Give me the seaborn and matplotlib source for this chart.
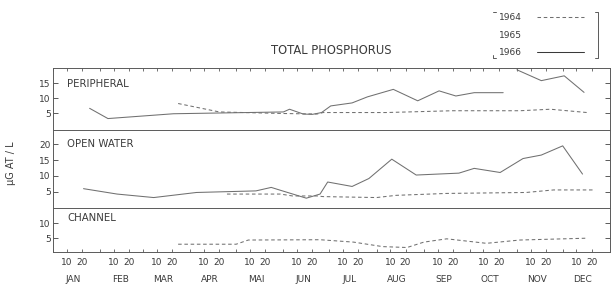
import matplotlib
matplotlib.use("Agg")
import matplotlib.pyplot as plt
import matplotlib.transforms as mtransforms
from matplotlib.lines import Line2D
import seaborn as sns

sns.set_theme(style="white")
plt.rcParams['font.family'] = ['DejaVu Sans']

# ---------------- data (day of year, µg at/L) ----------------
months = ["JAN", "FEB", "MAR", "APR", "MAI", "JUN",
          "JUL", "AUG", "SEP", "OCT", "NOV", "DEC"]
month_start = [0, 31, 59, 90, 120, 151, 181, 212, 243, 273, 304, 334]
tick_days = ["10", "20"]
years = ["1964", "1965", "1966"]

# PERIPHERAL
per_1966a_day = [24, 36, 79, 151, 155, 164, 170, 176, 182, 196, 206, 223, 239, 253, 264, 276, 295]
per_1966a_val = [6.7, 3.3, 4.9, 5.5, 6.4, 4.8, 4.7, 5.3, 7.5, 8.5, 10.5, 13.0, 9.2, 12.5, 10.8, 11.9, 11.9]
per_1966b_day = [304, 320, 335, 348]
per_1966b_val = [19.5, 15.9, 17.5, 12.0]
per_1964_day = [82, 109, 149, 173, 177, 218, 262, 306, 326, 350]
per_1964_val = [8.3, 5.5, 5.0, 4.8, 5.3, 5.3, 5.9, 5.9, 6.4, 5.3]

# OPEN WATER
ow_1966_day = [20, 42, 66, 94, 133, 143, 149, 166, 175, 180, 196, 207, 222, 238,
               266, 276, 293, 308, 320, 334, 347]
ow_1966_val = [6.0, 4.3, 3.2, 4.8, 5.3, 6.4, 5.5, 3.0, 4.3, 8.1, 6.7, 9.2, 15.3, 10.3,
               10.9, 12.4, 11.1, 15.5, 16.6, 19.5, 10.6]
ow_1964_day = [114, 149, 157, 173, 177, 212, 225, 258, 310, 328, 354]
ow_1964_val = [4.3, 4.3, 3.7, 3.7, 3.5, 3.2, 3.9, 4.5, 4.8, 5.6, 5.6]

# CHANNEL
ch_1964_day = [82, 120, 128, 175, 197, 216, 232, 243, 258, 284, 306, 349]
ch_1964_val = [3.0, 3.0, 4.4, 4.5, 3.7, 2.2, 1.9, 3.7, 4.8, 3.3, 4.4, 5.0]

# ---------------- styling ----------------
INK = "#707070"
AXC = "#5a5a5a"
TXT = "#3a3a3a"
DASH = (0, (3.4, 2.6))
LW = 0.75

W, H = 612, 286
fig = plt.figure(figsize=(W / 100, H / 100), dpi=100)


def rect(x0, y0, x1, y1):
    return [x0 / W, 1 - y1 / H, (x1 - x0) / W, (y1 - y0) / H]


ax_p = fig.add_axes(rect(53, 68.3, 610, 130))
ax_o = fig.add_axes(rect(53, 130, 610, 207.7))
ax_c = fig.add_axes(rect(53, 207.7, 610, 251.7))


def draw(ax, d, v, dashed):
    sns.lineplot(x=d, y=v, ax=ax, color=INK, lw=LW, estimator=None, sort=False,
                 linestyle=DASH if dashed else "-")


draw(ax_p, per_1966a_day, per_1966a_val, False)
draw(ax_p, per_1966b_day, per_1966b_val, False)
draw(ax_p, per_1964_day, per_1964_val, True)
draw(ax_o, ow_1966_day, ow_1966_val, False)
draw(ax_o, ow_1964_day, ow_1964_val, True)
draw(ax_c, ch_1964_day, ch_1964_val, True)

ax_p.set_ylim(-0.5, 20)
ax_o.set_ylim(0, 24.5)
ax_c.set_ylim(0.5, 15.2)
ax_p.set_yticks([5, 10, 15])
ax_o.set_yticks([5, 10, 15, 20])
ax_c.set_yticks([5, 10])

major = [s + int(t) - 1 for s in month_start for t in tick_days]
major_lab = [t for s in month_start for t in tick_days]
minor = month_start

for ax in (ax_p, ax_o, ax_c):
    ax.set_xlim(0, 365)
    ax.set_xlabel("")
    ax.set_ylabel("")
    ax.set_facecolor("white")
    for s in ax.spines.values():
        s.set_color(AXC)
        s.set_linewidth(0.7)
        s.set_visible(True)
    ax.tick_params(axis="y", which="both", direction="in", length=3.5, width=0.7,
                   left=True, right=True, labelleft=True, labelright=False,
                   labelsize=6.5, labelcolor=TXT, color=AXC, pad=1.5)
    ax.set_xticks(major)
    ax.set_xticks(minor, minor=True)
    ax.set_xticklabels([])
    ax.tick_params(axis="x", which="both", direction="in", length=2.5, width=0.6,
                   color=AXC, top=False, bottom=False, labelbottom=False, labeltop=False)

ax_p.spines["bottom"].set_visible(False)
ax_o.spines["bottom"].set_visible(False)
ax_p.tick_params(axis="x", which="both", top=True)
ax_c.tick_params(axis="x", which="both", bottom=True)
ax_c.tick_params(axis="x", which="major", labelbottom=True, labelsize=6.5,
                 labelcolor=TXT, pad=4.5)
ax_c.set_xticklabels(major_lab)

# month names
trans = mtransforms.blended_transform_factory(ax_c.transData, fig.transFigure)
for s, m in zip(month_start, months):
    ax_c.text(s + 13, 1 - 279 / H, m, transform=trans, ha="center", va="center",
              fontsize=6.5, color=TXT)

# panel labels
for ax, lab, yy in ((ax_p, "PERIPHERAL", 84), (ax_o, "OPEN WATER", 144),
                    (ax_c, "CHANNEL", 218.3)):
    fig.text(67 / W, 1 - yy / H, lab, ha="left", va="center", fontsize=7.3, color=TXT)

# title and y label
fig.text(331 / W, 1 - 50 / H, "TOTAL PHOSPHORUS", ha="center", va="center",
         fontsize=8.3, color=TXT)
fig.text(11 / W, 1 - 163 / H, "μG AT / L", rotation=90, ha="center", va="center",
         fontsize=7, color=TXT)

# legend
handles = [Line2D([], [], color=INK, lw=LW, linestyle=DASH),
           Line2D([], [], color="none", lw=LW),
           Line2D([], [], color=TXT, lw=LW)]
fig.legend(handles=handles, labels=years, loc="upper left",
           bbox_to_anchor=(492 / W, 1 - 6 / H), frameon=False, markerfirst=False,
           fontsize=6.5, handlelength=5.2, handletextpad=1.6, labelspacing=0.95,
           borderpad=0.3, labelcolor=TXT)
# bracket around legend
for xs, ys in (([595, 598, 598, 595], [12, 12, 58, 58]),
               ([496, 493], [12, 12]),
               ([496, 493, 493], [58, 58, 55])):
    fig.add_artist(Line2D([x / W for x in xs], [1 - y / H for y in ys],
                          color=AXC, lw=0.7, transform=fig.transFigure))

fig.savefig("out.png", dpi=100, facecolor="white")
